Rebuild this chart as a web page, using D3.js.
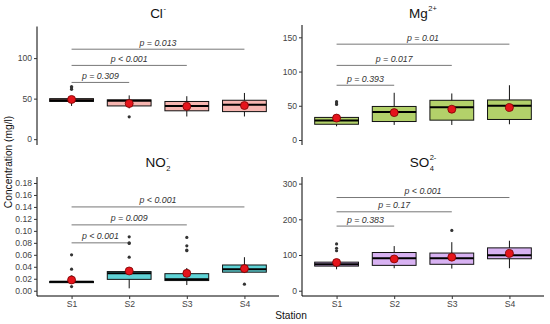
<!DOCTYPE html>
<html><head><meta charset="utf-8">
<script src="https://cdn.jsdelivr.net/npm/d3@7"></script>
<style>body{margin:0;background:#fff}svg{display:block;font-family:"Liberation Sans",Arial,sans-serif}</style>
</head><body>
<svg id="c" width="550" height="324"></svg>
<script>
const stations = ["S1","S2","S3","S4"];
// each row: [lowWhisker, q1, median, q3, highWhisker, mean]
const clBox = [[41,46.5,48,50,52,49],[38,41,47.5,48.5,54,44],[28,35,41,46.5,53,40.5],[28,34,42.5,48,57,41.5]];
const clOut = [[61.5,63.5,65],[27.5],[],[]];
const mgBox = [[20,23,28.5,33,35,32],[22,27,41,49,69,40],[22,29,48,58,68,45],[23,30,50,58.5,80,47.5]];
const mgOut = [[52,54,56],[],[],[]];
const no2Box = [[0.0135,0.0135,0.015,0.0155,0.0155,0.018],[0.004,0.019,0.029,0.032,0.032,0.033],[0.0095,0.017,0.019,0.0285,0.038,0.029],[0.03,0.031,0.036,0.043,0.056,0.037]];
const no2Out = [[0.007,0.023,0.036,0.06],[0.056,0.079,0.08,0.09],[0.067,0.068,0.075,0.089],[0.011]];
const so4Box = [[60,69,74,80,84,79],[63,71,91,107,125,89],[62,74,91,105.5,136,94],[63,89.5,99,120,140,104.5]];
const so4Out = [[112,119,131],[],[169],[]];
const clTicks = [0,50,100], mgTicks = [0,50,100,150];
const no2Ticks = [0,0.02,0.04,0.06,0.08,0.10,0.12,0.14,0.16,0.18];
const so4Ticks = [0,100,200,300];
const clP = [70,91,111], mgP = [80,109,140], no2P = [0.08,0.11,0.14], so4P = [181,221,261];
const clPLab = ["p = 0.309","p < 0.001","p = 0.013"];
const mgPLab = ["p = 0.393","p = 0.017","p = 0.01"];
const no2PLab = ["p < 0.001","p = 0.009","p < 0.001"];
const so4PLab = ["p = 0.383","p = 0.17","p < 0.001"];

const svg = d3.select("#c");

const panels = [
  {box:clBox,out:clOut,ticks:clTicks,fmt:d3.format("d"),p:clP,plab:clPLab,dom:[-7.2,139],x0:37,x1:279,top:26.5,bot:145,fill:"#f6b5b0",xaxis:false,
   base:"Cl",sub:null,sup:"-",tx:158,ty:18},
  {box:mgBox,out:mgOut,ticks:mgTicks,fmt:d3.format("d"),p:mgP,plab:mgPLab,dom:[-7.3,168],x0:302,x1:544,top:25,bot:145,fill:"#b3d16a",xaxis:false,
   base:"Mg",sub:null,sup:"2+",tx:423,ty:18},
  {box:no2Box,out:no2Out,ticks:no2Ticks,fmt:d3.format(".2f"),p:no2P,plab:no2PLab,dom:[-0.0088,0.19],x0:37,x1:279,top:177,bot:296,fill:"#5fd3d6",xaxis:true,
   base:"NO",sub:"2",sup:"-",tx:158,ty:167},
  {box:so4Box,out:so4Out,ticks:so4Ticks,fmt:d3.format("d"),p:so4P,plab:so4PLab,dom:[-14.8,318.5],x0:302,x1:544,top:177,bot:296,fill:"#d8b2f2",xaxis:true,
   base:"SO",sub:"4",sup:"2-",tx:423,ty:167}
];

panels.forEach(P => {
  const g = svg.append("g");
  const x = d3.scalePoint().domain(stations).range([P.x0, P.x1]).padding(0.6);
  const y = d3.scaleLinear().domain(P.dom).range([P.bot, P.top]);
  const bw = x.step()*0.76;

  const ya = g.append("g").attr("transform",`translate(${P.x0},0)`)
    .call(d3.axisLeft(y).tickValues(P.ticks).tickFormat(P.fmt).tickSize(3).tickPadding(2));
  ya.select(".domain").attr("d",`M0,${P.top}V${P.bot}`).attr("stroke","#000");
  ya.selectAll("text").attr("font-size","8.6px").attr("fill","#444").attr("font-family","Liberation Sans, Arial");
  ya.selectAll(".tick line").attr("stroke","#333");

  if (P.xaxis) {
    const xa = g.append("g").attr("transform",`translate(0,${P.bot})`)
      .call(d3.axisBottom(x).tickSize(3).tickPadding(2));
    xa.select(".domain").attr("d",`M${P.x0},0H${P.x1}`).attr("stroke","#000");
    xa.selectAll("text").attr("font-size","8.6px").attr("fill","#444").attr("font-family","Liberation Sans, Arial");
    xa.selectAll(".tick line").attr("stroke","#333");
  }

  P.p.forEach((v,i) => {
    const xa = x(stations[0]), xb = x(stations[i+1]);
    g.append("line").attr("x1",xa).attr("x2",xb).attr("y1",y(v)).attr("y2",y(v))
      .attr("stroke","#777").attr("stroke-width",1);
    g.append("text").attr("x",(xa+xb)/2).attr("y",y(v)-3.5).attr("text-anchor","middle")
      .attr("font-size","8.8px").attr("font-style","italic").attr("fill","#333").text(P.plab[i]);
  });

  P.box.forEach((b,i) => {
    const cx = x(stations[i]);
    g.append("line").attr("x1",cx).attr("x2",cx).attr("y1",y(b[0])).attr("y2",y(b[4]))
      .attr("stroke","#111").attr("stroke-width",1);
    g.append("rect").attr("x",cx-bw/2).attr("width",bw).attr("y",y(b[3]))
      .attr("height",Math.max(0.5,y(b[1])-y(b[3]))).attr("fill",P.fill).attr("stroke","#111").attr("stroke-width",1);
    g.append("line").attr("x1",cx-bw/2).attr("x2",cx+bw/2).attr("y1",y(b[2])).attr("y2",y(b[2]))
      .attr("stroke","#000").attr("stroke-width",2);
    P.out[i].forEach(o => {
      g.append("circle").attr("cx",cx).attr("cy",y(o)).attr("r",1.6).attr("fill","#333");
    });
    g.append("circle").attr("cx",cx).attr("cy",y(b[5])).attr("r",4)
      .attr("fill","#e5141b").attr("stroke","#7a0000").attr("stroke-width",0.8);
  });

  // title: base text + stacked sub/superscript
  const tg = svg.append("g");
  const tb = tg.append("text").attr("y",P.ty).attr("font-size","13.5px").attr("fill","#111").text(P.base);
  const wb = tb.node().getComputedTextLength();
  let ws = 0, wp = 0;
  let ts = null;
  if (P.sub) {
    ts = tg.append("text").attr("y",P.ty+3.5).attr("font-size","7.5px").attr("fill","#111").text(P.sub);
    ws = ts.node().getComputedTextLength();
  }
  const tp = tg.append("text").attr("y",P.ty-7).attr("font-size","7.5px").attr("fill","#111").text(P.sup);
  wp = tp.node().getComputedTextLength();
  const total = wb + 0.5 + Math.max(ws, wp);
  const x0 = P.tx - total/2;
  tb.attr("x", x0);
  if (ts) ts.attr("x", x0 + wb + 0.5);
  tp.attr("x", x0 + wb + 0.5);
});

svg.append("text").attr("transform","translate(12,162) rotate(-90)").attr("text-anchor","middle")
  .attr("font-size","10.2px").attr("fill","#111").text("Concentration (mg/l)");
svg.append("text").attr("x",291).attr("y",319).attr("text-anchor","middle")
  .attr("font-size","10.2px").attr("fill","#111").text("Station");
</script>
</body></html>
